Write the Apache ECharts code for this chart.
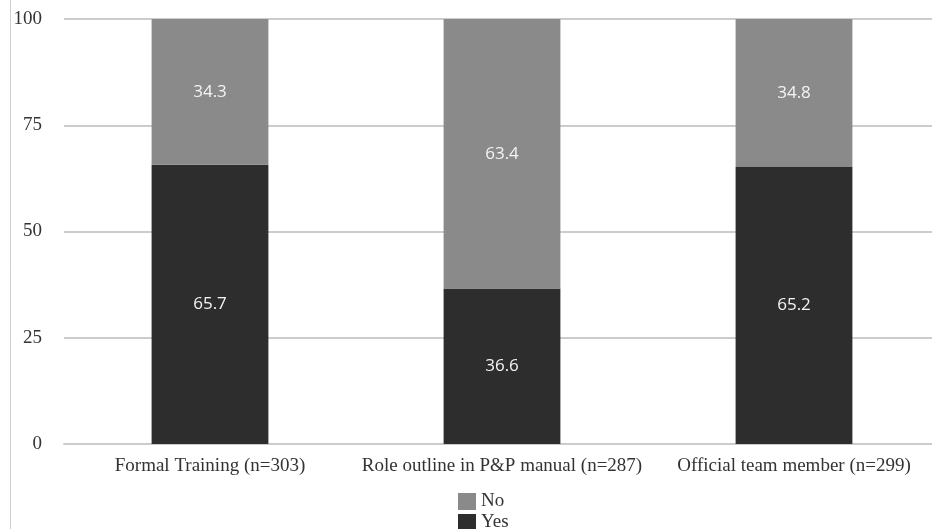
<!DOCTYPE html>
<html>
<head>
<meta charset="utf-8">
<script src="https://cdn.jsdelivr.net/npm/echarts@6/dist/echarts.min.js"></script>
<style>
html,body{margin:0;padding:0;background:#fff;overflow:hidden;}
/* canvas is a little wider than the window: the plot area runs past the right edge */
#chart{width:941px;height:529px;}
</style>
</head>
<body>
<div id="chart"></div>
<script>
const categories = ['Formal Training (n=303)', 'Role outline in P&P manual (n=287)', 'Official team member (n=299)'];
const yesValues = [65.7, 36.6, 65.2];
const noValues = [34.3, 63.4, 34.8];
const yTicks = [0, 25, 50, 75, 100];

const serif = '"Liberation Serif", "Times New Roman", serif';
const sans = '"Open Sans", "Noto Sans", sans-serif';
const chart = echarts.init(document.getElementById('chart'));

const legendBase = {
  orient: 'vertical',
  left: 458,
  itemWidth: 18,
  itemHeight: 17,
  itemGap: 14,
  icon: 'rect',
  textStyle: { fontFamily: serif, fontSize: 19, color: '#333' }
};

const valueLabel = {
  show: true,
  position: 'inside',
  color: '#f4f4f4',
  fontFamily: sans,
  fontSize: 17,
  formatter: p => p.value.toFixed(1)
};

chart.setOption({
  animation: false,
  textStyle: { fontFamily: serif },
  grid: { left: 64, top: 19, width: 876, height: 425, containLabel: false },
  legend: [
    Object.assign({}, legendBase, { top: 492, padding: 0, data: ['No'] }),
    Object.assign({}, legendBase, { top: 513, padding: 0, data: ['Yes'] })
  ],
  xAxis: {
    type: 'category',
    data: categories,
    axisLine: { lineStyle: { color: '#cccccc', width: 2 } },
    axisTick: { show: false },
    axisLabel: { fontFamily: serif, fontSize: 19, color: '#333', margin: 13, interval: 0, hideOverlap: false }
  },
  yAxis: {
    type: 'value',
    min: yTicks[0],
    max: yTicks[yTicks.length - 1],
    interval: 25,
    axisLine: { show: false },
    axisTick: { show: false },
    axisLabel: { fontFamily: serif, fontSize: 19, color: '#333', margin: 22 },
    splitLine: { lineStyle: { color: '#cccccc', width: 2 } }
  },
  series: [
    {
      name: 'Yes',
      type: 'bar',
      stack: 'total',
      barWidth: '40%',
      data: yesValues,
      itemStyle: { color: '#2d2d2d' },
      label: valueLabel
    },
    {
      name: 'No',
      type: 'bar',
      stack: 'total',
      barWidth: '40%',
      data: noValues,
      itemStyle: { color: '#8a8a8a' },
      label: valueLabel
    }
  ],
  graphic: [
    { type: 'line', shape: { x1: 10.5, y1: 0, x2: 10.5, y2: 529 }, style: { stroke: '#cfcfcf', lineWidth: 1 } }
  ]
});
</script>
</body>
</html>
